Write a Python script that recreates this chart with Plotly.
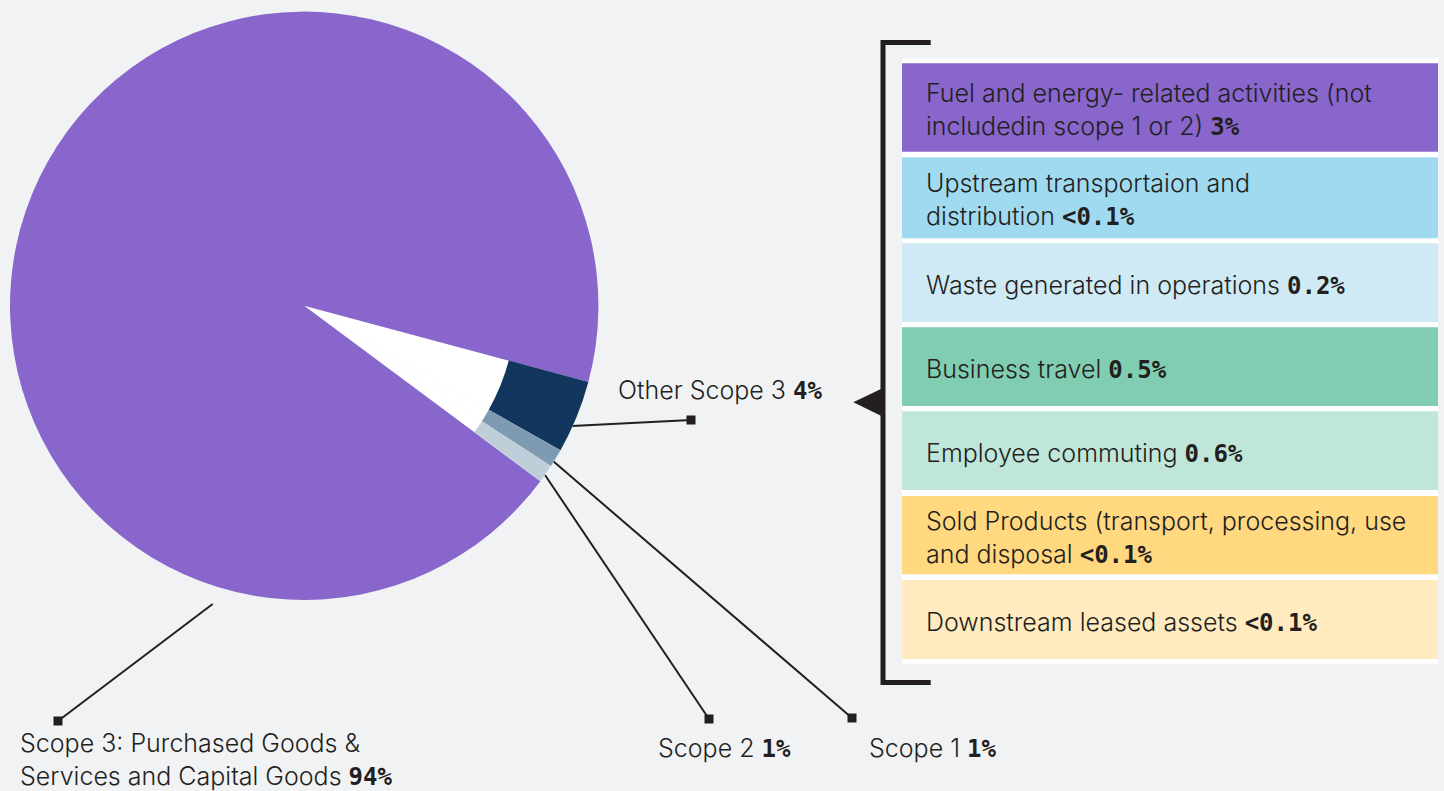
import plotly.graph_objects as go

# ---------------- data ----------------
pie_labels = ["Other Scope 3", "Scope 2", "Scope 1",
              "Scope 3: Purchased Goods & Services and Capital Goods"]
pie_values = [4, 1, 1, 94]
pie_colors = ["#12365E", "#7F9BB1", "#BFCFD9", "#8866CC"]

label_names = ["Scope 3: Purchased Goods &<br>Services and Capital Goods",
               "Scope 2", "Scope 1", "Other Scope 3"]
label_pcts = ["94%", "1%", "1%", "4%"]

breakdown_names = [
    "Fuel and energy- related activities (not<br>includedin scope 1 or 2)",
    "Upstream transportaion and<br>distribution",
    "Waste generated in operations",
    "Business travel",
    "Employee commuting",
    "Sold Products (transport, processing, use<br>and disposal",
    "Downstream leased assets",
]
breakdown_pcts = ["3%", "<0.1%", "0.2%", "0.5%", "0.6%", "<0.1%", "<0.1%"]
breakdown_colors = ["#8866CC", "#A0DAF0", "#CFEAF5", "#80CDB2",
                    "#BFE6D9", "#FFD880", "#FFEBBF"]

# ---------------- layout constants ----------------
W, H = 1444, 791
BG = "#F1F2F4"
INK = "#231F20"
TXT = "#231F20"
FONT = "Inter"
PCT_FONT = "DejaVu Sans Mono"
FS = 25
PFS = 24

cx, cy, R = 304.2, 305.8, 294.2
dom_x = [(cx - R) / W, (cx + R) / W]
dom_y = [(H - cy - R) / H, (H - cy + R) / H]

fig = go.Figure()

n_small = len(pie_values) - 1
# base pie: inner part of the small slices is white
fig.add_trace(go.Pie(
    labels=pie_labels, values=pie_values,
    marker=dict(colors=["#FFFFFF"] * n_small + [pie_colors[-1]], line=dict(width=0)),
    sort=False, direction="clockwise", rotation=105,
    textinfo="none", hoverinfo="label+percent", showlegend=False,
    domain=dict(x=dom_x, y=dom_y),
))
# outer ring for the small slices
fig.add_trace(go.Pie(
    labels=pie_labels, values=pie_values, hole=0.72,
    marker=dict(colors=pie_colors[:-1] + ["rgba(0,0,0,0)"], line=dict(width=0)),
    sort=False, direction="clockwise", rotation=105,
    textinfo="none", hoverinfo="skip", showlegend=False,
    domain=dict(x=dom_x, y=dom_y),
))

def pct_span(p, size):
    return (f"<span style='font-family:{PCT_FONT};font-weight:bold;font-size:{size}px'>"
            f"{p}</span>")

# leader lines: (start, end, text anchor x, text center y)
leaders = [((212.7, 604), (58, 721), 18, 759),
           ((545, 475), (709, 719), 656, 748),
           ((553, 461), (852, 718), 867, 748),
           ((572, 426), (691, 420), 616, 390)]
annotations = []
shapes = []
for (name, pct, (p0, p1, tx, ty)) in zip(label_names, label_pcts, leaders):
    fig.add_trace(go.Scatter(
        x=[p0[0], p1[0]], y=[p0[1], p1[1]], mode="lines",
        line=dict(color=INK, width=2), hoverinfo="skip", showlegend=False))
    fig.add_trace(go.Scatter(
        x=[p1[0]], y=[p1[1]], mode="markers",
        marker=dict(symbol="square", size=9, color=INK), hoverinfo="skip",
        showlegend=False))
    annotations.append(dict(
        x=tx, y=ty, xref="x", yref="y", xanchor="left", yanchor="middle",
        align="left", showarrow=False,
        text=f"{name} {pct_span(pct, PFS)}",
        font=dict(family=FONT, size=FS, color=TXT, weight=300)))

# breakdown boxes
bx0, bx1 = 902, 1438
tops = [63.3, 157.3, 243.3, 327.3, 411.3, 496.0, 580.0]
bots = [151.7, 238.3, 322.0, 406.0, 490.0, 574.3, 659.0]
shapes.append(dict(type="rect", xref="x", yref="y", x0=bx0, x1=bx1,
                   y0=58.3, y1=663.7, fillcolor="#FFFFFF", line=dict(width=0),
                   layer="below"))
for name, pct, col, t, b in zip(breakdown_names, breakdown_pcts,
                                breakdown_colors, tops, bots):
    shapes.append(dict(type="rect", xref="x", yref="y", x0=bx0, x1=bx1,
                       y0=t, y1=b, fillcolor=col, line=dict(width=0),
                       layer="below"))
    annotations.append(dict(
        x=924, y=(t + b) / 2 + 2, xref="x", yref="y", xanchor="left",
        yanchor="middle", align="left", showarrow=False,
        text=f"{name} {pct_span(pct, PFS)}",
        font=dict(family=FONT, size=FS, color=TXT, weight=300)))

# bracket and pointer
shapes.append(dict(type="path", xref="x", yref="y",
                   path="M 930.7 42.5 L 883 42.5 L 883 682.5 L 930.7 682.5",
                   line=dict(color=INK, width=5)))
shapes.append(dict(type="path", xref="x", yref="y",
                   path="M 853.3 402.3 L 883 388 L 883 416.7 Z",
                   fillcolor=INK, line=dict(color=INK, width=0)))

fig.update_layout(
    width=W, height=H,
    margin=dict(l=0, r=0, t=0, b=0),
    paper_bgcolor=BG, plot_bgcolor="rgba(0,0,0,0)",
    xaxis=dict(range=[0, W], visible=False, domain=[0, 1], fixedrange=True),
    yaxis=dict(range=[H, 0], visible=False, domain=[0, 1], fixedrange=True),
    shapes=shapes, annotations=annotations,
    showlegend=False,
)

fig.write_html(
    "out.html",
    config={"displayModeBar": False},
    post_script="document.body.style.margin='0';document.body.style.overflow='hidden';",
)
